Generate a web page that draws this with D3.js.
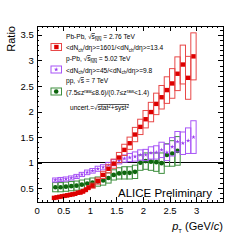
<!DOCTYPE html>
<html lang="en">
<head>
<meta charset="utf-8">
<script src="https://d3js.org/d3.v7.min.js"></script>
<style type="text/css">
    body { margin: 0; background: #fff; }
    svg text { font-family: "Liberation Sans", Arial, sans-serif; fill: #000; }
    .axis path, .axis line { stroke: #000; shape-rendering: crispEdges; }
    .axis text { font-size: 9.5px; }
    .leg { font-size: 6.6px; }
</style>
</head>
<body>
<script>
// Pb-Pb ratio (red squares)
var redPt = [0.325, 0.375, 0.425, 0.475, 0.525, 0.575, 0.625, 0.675, 0.725, 0.775, 0.825, 0.875, 0.925, 0.975,
             1.05, 1.15, 1.25, 1.35, 1.45, 1.55, 1.65, 1.75, 1.85, 1.95, 2.05, 2.15, 2.25, 2.35, 2.45, 2.55, 2.65, 2.75, 2.85, 2.95];
var redRatio = [0.31, 0.32, 0.33, 0.34, 0.35, 0.36, 0.37, 0.38, 0.39, 0.41, 0.42, 0.44, 0.47, 0.51,
                0.55, 0.64, 0.76, 0.88, 0.98, 1.10, 1.25, 1.38, 1.55, 1.70, 1.85, 1.99, 2.15, 2.28, 2.42, 2.55, 2.74, 2.92, 2.66, 3.08];
var redErr = [0.03, 0.03, 0.03, 0.03, 0.03, 0.03, 0.03, 0.03, 0.03, 0.03, 0.04, 0.04, 0.04, 0.04,
              0.05, 0.06, 0.07, 0.08, 0.09, 0.10, 0.11, 0.12, 0.14, 0.15, 0.17, 0.19, 0.21, 0.23, 0.26, 0.29, 0.33, 0.38, 0.42, 0.46];

// p-Pb ratio (violet stars)
var violetPt = [0.35, 0.45, 0.55, 0.65, 0.75, 0.85, 0.95, 1.05, 1.15, 1.25, 1.35, 1.45, 1.55, 1.65,
                1.75, 1.85, 1.95, 2.05, 2.15, 2.25, 2.35, 2.45, 2.55, 2.65, 2.75, 2.85, 2.95];
var violetRatio = [0.66, 0.67, 0.68, 0.70, 0.73, 0.77, 0.81, 0.84, 0.88, 0.91, 0.95, 1.00, 1.04, 1.08,
                   1.10, 1.12, 1.15, 1.15, 1.19, 1.20, 1.25, 1.20, 1.31, 1.41, 1.38, 1.43, 1.50];
var violetErr = [0.04, 0.04, 0.04, 0.04, 0.04, 0.04, 0.045, 0.045, 0.05, 0.05, 0.055, 0.06, 0.065, 0.07,
                 0.08, 0.09, 0.10, 0.11, 0.12, 0.13, 0.15, 0.16, 0.18, 0.20, 0.22, 0.25, 0.32];

// pp ratio (green circles)
var greenPt = [0.35, 0.45, 0.55, 0.65, 0.75, 0.85, 0.95, 1.05, 1.15, 1.25, 1.35, 1.45,
               1.55, 1.65, 1.75, 1.85, 1.95, 2.05, 2.15, 2.25, 2.35, 2.45, 2.55, 2.65];
var greenRatio = [0.52, 0.52, 0.53, 0.54, 0.55, 0.57, 0.59, 0.61, 0.63, 0.65, 0.70, 0.76,
                  0.79, 0.80, 0.80, 0.82, 1.00, 1.03, 1.02, 1.01, 0.99, 1.15, 1.18, 1.23];
var greenErr = [0.09, 0.09, 0.09, 0.09, 0.09, 0.09, 0.09, 0.09, 0.09, 0.09, 0.10, 0.10,
                0.11, 0.12, 0.12, 0.13, 0.15, 0.16, 0.17, 0.18, 0.20, 0.22, 0.25, 0.28];

var xTicks = [0, 0.5, 1, 1.5, 2, 2.5, 3];
var yTicks = [0.5, 1, 1.5, 2, 2.5, 3, 3.5];

var W = 248, H = 241;
var x = d3.scaleLinear().domain([0, 3.5]).range([36.7, 222.7]);
var y = d3.scaleLinear().domain([0.23, 3.68]).range([202, 25.7]);

var svg = d3.select("body").append("svg")
    .attr("width", W)
    .attr("height", H);

function zip(px, py, pe, w) {
    return px.map(function (d, i) {
        var bw = w ? w : (d < 1 ? 0.05 : 0.1);
        return { x: d, y: py[i], e: pe[i], w: bw };
    });
}
var red = zip(redPt, redRatio, redErr);
var violet = zip(violetPt, violetRatio, violetErr, 0.1);
var green = zip(greenPt, greenRatio, greenErr, 0.1);

// uncertainty boxes
function boxes(data, color, cls) {
    svg.append("g").selectAll("rect")
        .data(data)
        .enter()
        .append("rect")
        .attr("class", cls)
        .attr("x", function (d) { return x(d.x - d.w / 2); })
        .attr("width", function (d) { return x(d.w) - x(0); })
        .attr("y", function (d) { return y(d.y + d.e); })
        .attr("height", function (d) { return y(d.y - d.e) - y(d.y + d.e); })
        .attr("fill", "none")
        .attr("stroke", color)
        .attr("stroke-width", 1);
}

// line at ratio = 1
svg.append("line")
    .attr("x1", x(0)).attr("x2", x(3.5))
    .attr("y1", y(1)).attr("y2", y(1))
    .attr("stroke", "#000").attr("stroke-width", 1)
    .style("shape-rendering", "crispEdges");

boxes(green, "#3f8f3f", "gbox");
svg.append("g").selectAll("circle")
    .data(green)
    .enter()
    .append("circle")
    .attr("cx", function (d) { return x(d.x); })
    .attr("cy", function (d) { return y(d.y); })
    .attr("r", 2.3)
    .attr("fill", "#0d650d");

boxes(violet, "#a855f7", "vbox");
svg.append("g").selectAll("path")
    .data(violet)
    .enter()
    .append("path")
    .attr("transform", function (d) { return "translate(" + x(d.x) + "," + y(d.y) + ")"; })
    .attr("d", d3.symbol().type(d3.symbolStar).size(6))
    .attr("fill", "#9b3cf0");

boxes(red, "#e84848", "rbox");
svg.append("g").selectAll("rect.m")
    .data(red)
    .enter()
    .append("rect")
    .attr("class", "m")
    .attr("x", function (d) { return x(d.x) - 2.2; })
    .attr("y", function (d) { return y(d.y) - 2.2; })
    .attr("width", 4.4)
    .attr("height", 4.4)
    .attr("fill", "#dd0000");

// axes, ROOT style ticks pointing inward
var minorX = d3.range(0, 3.51, 0.1);
var minorY = d3.range(0.3, 3.68, 0.1);

svg.append("g").attr("class", "axis")
    .attr("transform", "translate(0," + y.range()[0] + ")")
    .call(d3.axisBottom(x).tickValues(xTicks).tickSize(-5).tickPadding(5)
        .tickFormat(function (d) { return d; }));
svg.append("g").attr("class", "axis")
    .attr("transform", "translate(0," + y.range()[0] + ")")
    .call(d3.axisBottom(x).tickValues(minorX).tickSize(-2.5).tickFormat(""));
svg.append("g").attr("class", "axis")
    .attr("transform", "translate(0," + y.range()[1] + ")")
    .call(d3.axisTop(x).tickValues(xTicks).tickSize(-5).tickFormat(""));
svg.append("g").attr("class", "axis")
    .attr("transform", "translate(0," + y.range()[1] + ")")
    .call(d3.axisTop(x).tickValues(minorX).tickSize(-2.5).tickFormat(""));

svg.append("g").attr("class", "axis")
    .attr("transform", "translate(" + x.range()[0] + ",0)")
    .call(d3.axisLeft(y).tickValues(yTicks).tickSize(-5).tickPadding(3)
        .tickFormat(function (d) { return d; }));
svg.append("g").attr("class", "axis")
    .attr("transform", "translate(" + x.range()[0] + ",0)")
    .call(d3.axisLeft(y).tickValues(minorY).tickSize(-2.5).tickFormat(""));
svg.append("g").attr("class", "axis")
    .attr("transform", "translate(" + x.range()[1] + ",0)")
    .call(d3.axisRight(y).tickValues(yTicks).tickSize(-5).tickFormat(""));
svg.append("g").attr("class", "axis")
    .attr("transform", "translate(" + x.range()[1] + ",0)")
    .call(d3.axisRight(y).tickValues(minorY).tickSize(-2.5).tickFormat(""));

svg.selectAll(".axis .domain").attr("stroke-width", 1);

// axis titles
svg.append("text")
    .attr("transform", "translate(15,26) rotate(-90)")
    .attr("text-anchor", "end")
    .style("font-size", "11px")
    .text("Ratio");

var xt = svg.append("text")
    .attr("x", 223).attr("y", 230)
    .attr("text-anchor", "end")
    .style("font-size", "11px");
xt.append("tspan").style("font-style", "italic").text("p");
xt.append("tspan").attr("dy", 2.5).style("font-size", "6px").text("T");
xt.append("tspan").attr("dy", -2.5).text(" (GeV/");
xt.append("tspan").style("font-style", "italic").text("c");
xt.append("tspan").text(")");

svg.append("text")
    .attr("x", 118).attr("y", 197)
    .style("font-size", "11.5px")
    .text("ALICE Preliminary");

// legend
function sqrtS(t, label, sub, energy) {
    t.append("tspan").text(label + "\u221A");
    t.append("tspan").style("text-decoration", "overline").text("s");
    if (sub) t.append("tspan").attr("dy", 1.5).style("font-size", "4.5px").style("text-decoration", "overline").text(sub);
    t.append("tspan").attr("dy", sub ? -1.5 : 0).text(energy);
}
function dndeta(t, a, b) {
    t.append("tspan").text("<dN");
    t.append("tspan").attr("dy", 1.5).style("font-size", "4.5px").text("ch");
    t.append("tspan").attr("dy", -1.5).text("/d\u03B7>=" + a + "/<dN");
    t.append("tspan").attr("dy", 1.5).style("font-size", "4.5px").text("ch");
    t.append("tspan").attr("dy", -1.5).text("/d\u03B7>=" + b);
}

var lx = 66;
sqrtS(svg.append("text").attr("class", "leg").attr("x", lx).attr("y", 39), "Pb-Pb, ", "NN", " = 2.76 TeV");
dndeta(svg.append("text").attr("class", "leg").attr("x", lx).attr("y", 50), "1601", "13.4");
sqrtS(svg.append("text").attr("class", "leg").attr("x", lx).attr("y", 61), "p-Pb, ", "NN", " = 5.02 TeV");
dndeta(svg.append("text").attr("class", "leg").attr("x", lx).attr("y", 72.5), "45", "9.8");
sqrtS(svg.append("text").attr("class", "leg").attr("x", lx).attr("y", 83), "pp, ", "", " = 7 TeV");
var zt = svg.append("text").attr("class", "leg").attr("x", lx).attr("y", 94.5);
zt.append("tspan").text("(7.5\u2264z");
zt.append("tspan").attr("dy", -2).style("font-size", "4.5px").text("raw");
zt.append("tspan").attr("dy", 2).text("\u22648.6)/(0.7\u2264z");
zt.append("tspan").attr("dy", -2).style("font-size", "4.5px").text("raw");
zt.append("tspan").attr("dy", 2).text("<1.4)");

var legItems = [
    { cy: 47, color: "#e84848" },
    { cy: 69.5, color: "#a855f7" },
    { cy: 91.5, color: "#3f8f3f" }
];
svg.append("g").selectAll("rect")
    .data(legItems)
    .enter()
    .append("rect")
    .attr("x", 51).attr("y", function (d) { return d.cy - 3.5; })
    .attr("width", 10.5).attr("height", 7)
    .attr("fill", "none").attr("stroke", function (d) { return d.color; });
svg.append("rect").attr("x", 54.2).attr("y", 44.8).attr("width", 4.4).attr("height", 4.4).attr("fill", "#dd0000");
svg.append("path").attr("transform", "translate(56.2,69.5)")
    .attr("d", d3.symbol().type(d3.symbolStar).size(6)).attr("fill", "#9b3cf0");
svg.append("circle").attr("cx", 56.2).attr("cy", 91.5).attr("r", 2.3).attr("fill", "#0d650d");

var ut = svg.append("text").attr("class", "leg").attr("x", 70).attr("y", 110);
ut.append("tspan").text("uncert.=\u221A");
ut.append("tspan").style("text-decoration", "overline").text("stat");
ut.append("tspan").attr("dy", -2).style("font-size", "4.5px").style("text-decoration", "overline").text("2");
ut.append("tspan").attr("dy", 2).style("text-decoration", "overline").text("+syst");
ut.append("tspan").attr("dy", -2).style("font-size", "4.5px").style("text-decoration", "overline").text("2");
</script>
</body>
</html>
